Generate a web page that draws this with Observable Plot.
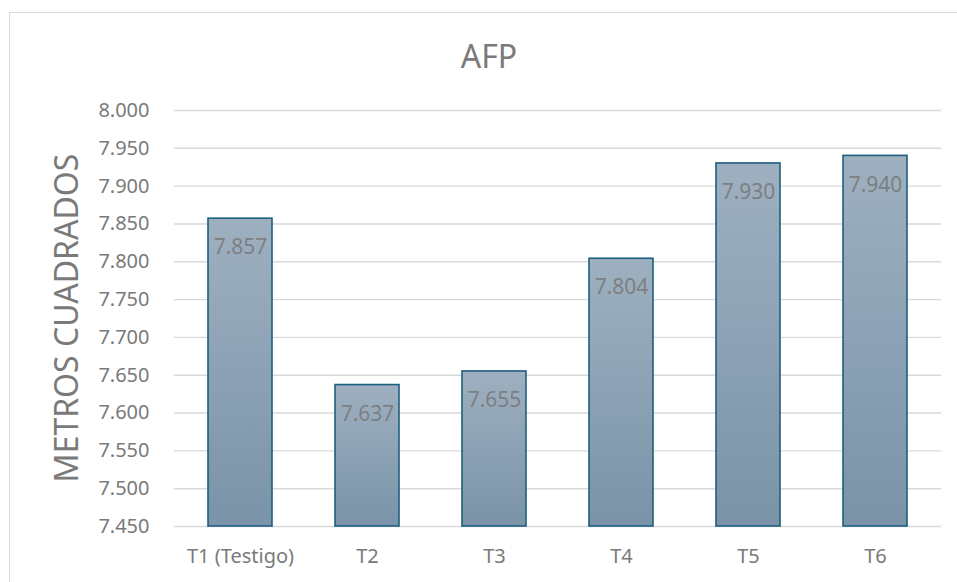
<!DOCTYPE html>
<html>
<head>
<meta charset="utf-8">
<script src="https://cdn.jsdelivr.net/npm/d3@7"></script>
<script src="https://cdn.jsdelivr.net/npm/@observablehq/plot@0.6"></script>
<style>
  html, body { margin: 0; padding: 0; background: #fff; }
  #wrap { position: relative; width: 957px; height: 582px; overflow: hidden; font-family: "Noto Sans", "Open Sans", sans-serif; }
  #frame { position: absolute; left: 9px; top: 12px; width: 980px; height: 620px; border: 1px solid #d9d9d9; box-sizing: border-box; }
  #title { position: absolute; left: 9px; top: 40px; width: 960px; text-align: center; font-size: 32px; line-height: 32px; color: #7a7a7a; }
  #ylabel { position: absolute; left: 66px; top: 318px; transform: translate(-50%, -50%) rotate(-90deg); white-space: nowrap; font-size: 32px; line-height: 32px; color: #7a7a7a; }
  #chart { position: absolute; left: 0; top: 90px; }
</style>
</head>
<body>
<div id="wrap">
  <div id="frame"></div>
  <div id="title">AFP</div>
  <div id="chart"></div>
  <div id="ylabel"></div>
</div>
<script>
const categories = ["T1 (Testigo)", "T2", "T3", "T4", "T5", "T6"];
const values = [7857, 7637, 7655, 7804, 7930, 7940];
const yTicks = [7450, 7500, 7550, 7600, 7650, 7700, 7750, 7800, 7850, 7900, 7950, 8000];
const yAxisLabel = "METROS CUADRADOS";

const data = categories.map((c, i) => ({cat: c, value: values[i]}));
const yMin = yTicks[0], yMax = yTicks[yTicks.length - 1];
const fmt = v => d3.format(",")(v).replace(/,/g, ".");

const plot = Plot.plot({
  width: 957,
  height: 492,
  marginTop: 20,
  marginBottom: 56,
  marginLeft: 174,
  marginRight: 16,
  style: {fontFamily: "Noto Sans, Open Sans, sans-serif", background: "transparent"},
  x: {domain: categories, paddingInner: 0.5, paddingOuter: 0.25, label: null},
  y: {domain: [yMin, yMax], label: null},
  marks: [
    Plot.ruleY(yTicks, {stroke: "#d9d9d9", strokeWidth: 1.4}),
    Plot.barY(data, {x: "cat", y1: yMin, y2: "value", fill: "url(#barGrad)", stroke: "#1d5f7f", strokeWidth: 1.6}),
    Plot.text(data, {x: "cat", y: "value", text: d => fmt(d.value), dy: 29, fontSize: 21, fill: "#7d7f82"}),
    Plot.axisY({ticks: yTicks, tickFormat: fmt, tickSize: 0, tickPadding: 25, fontSize: 20, color: "#7a7a7a", label: null}),
    Plot.axisX({tickSize: 0, tickPadding: 22, fontSize: 20, color: "#7a7a7a", label: null})
  ]
});

const defs = d3.select(plot).insert("defs", ":first-child");
const g = defs.append("linearGradient").attr("id", "barGrad")
  .attr("x1", 0).attr("y1", 0).attr("x2", 0).attr("y2", 1);
g.append("stop").attr("offset", "0%").attr("stop-color", "#9eb0c0");
g.append("stop").attr("offset", "100%").attr("stop-color", "#7a93a8");

document.getElementById("chart").appendChild(plot);
document.getElementById("ylabel").textContent = yAxisLabel;
</script>
</body>
</html>
